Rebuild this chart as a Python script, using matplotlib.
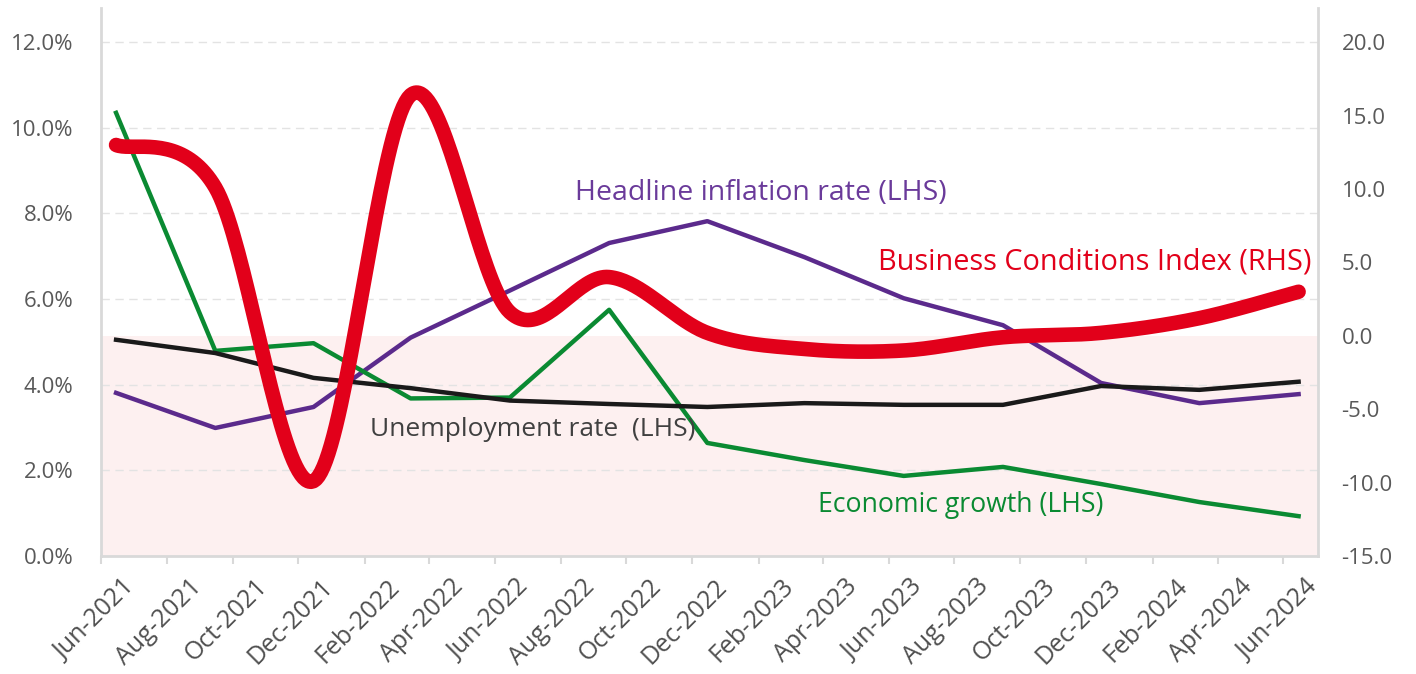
import numpy as np
import pandas as pd
import matplotlib
matplotlib.use("Agg")
import matplotlib.pyplot as plt
import matplotlib.dates as mdates
import matplotlib.transforms as mtransforms
from matplotlib.patches import Rectangle
from matplotlib.ticker import FuncFormatter, MultipleLocator

plt.rcParams['font.family'] = ['Open Sans', 'DejaVu Sans']

# Quarterly observations (plotted mid-month)
quarters = pd.to_datetime([
    '2021-06-15', '2021-09-15', '2021-12-15', '2022-03-15', '2022-06-15',
    '2022-09-15', '2022-12-15', '2023-03-15', '2023-06-15', '2023-09-15',
    '2023-12-15', '2024-03-15', '2024-06-15',
])
inflation = [3.81, 2.99, 3.48, 5.1, 6.2, 7.31, 7.82, 6.98, 6.02, 5.39, 4.04, 3.57, 3.78]
unemployment = [5.05, 4.74, 4.16, 3.92, 3.63, 3.55, 3.48, 3.57, 3.53, 3.53, 3.97, 3.88, 4.07]
growth = [10.35, 4.79, 4.97, 3.68, 3.7, 5.75, 2.64, 2.24, 1.87, 2.08, 1.68, 1.26, 0.93]
bci = [13.0, 10.1, -9.9, 16.4, 1.6, 4.0, 0.2, -0.9, -1.0, -0.1, 0.2, 1.2, 3.0]

x_start = pd.Timestamp('2021-06-01')
x_end = pd.Timestamp('2024-07-03')

GREY = '#595959'
AXIS_GREY = '#d9d9d9'
PURPLE = '#5b2a8c'
GREEN = '#0a8a32'
BLACK = '#1a1a1a'
RED = '#e2001a'


def smooth_curve(x, y, n=40):
    """Excel-style smoothed line: cubic Bezier with Catmull-Rom control points."""
    x = np.asarray(x, dtype=float)
    y = np.asarray(y, dtype=float)
    px = np.concatenate([[x[0]], x, [x[-1]]])
    py = np.concatenate([[y[0]], y, [y[-1]]])
    xs, ys = [], []
    t = np.linspace(0, 1, n)
    for i in range(1, len(x)):
        p0 = np.array([px[i], py[i]])
        p3 = np.array([px[i + 1], py[i + 1]])
        c1 = p0 + (np.array([px[i + 1], py[i + 1]]) - np.array([px[i - 1], py[i - 1]])) / 6
        c2 = p3 - (np.array([px[i + 2], py[i + 2]]) - np.array([px[i], py[i]])) / 6
        b = ((1 - t) ** 3)[:, None] * p0 + (3 * (1 - t) ** 2 * t)[:, None] * c1 \
            + (3 * (1 - t) * t ** 2)[:, None] * c2 + (t ** 3)[:, None] * p3
        xs.append(b[:, 0])
        ys.append(b[:, 1])
    return np.concatenate(xs), np.concatenate(ys)


fig = plt.figure(figsize=(14.16, 6.74), dpi=100)
ax1 = fig.add_axes([0.0713, 0.1751, 0.8595, 0.8131])
ax2 = ax1.twinx()

xnum = mdates.date2num(quarters)

# Left axis series
ax1.plot(xnum, inflation, color=PURPLE, lw=3.2, solid_joinstyle='round', zorder=3)
ax1.plot(xnum, growth, color=GREEN, lw=3.2, solid_joinstyle='round', zorder=3)
ax1.plot(xnum, unemployment, color=BLACK, lw=3.2, solid_joinstyle='round', zorder=3)

ax1.set_xlim(mdates.date2num(x_start), mdates.date2num(x_end))
ax1.set_ylim(0, 12.8)
ax2.set_ylim(-15, 12.8 * 35 / 12 - 15)

# Shaded region below zero on the right-hand scale
band = Rectangle((0, -15), 1, 15, facecolor='#fdf0f0', edgecolor='none', zorder=0,
                 transform=mtransforms.blended_transform_factory(ax1.transAxes, ax2.transData))
ax1.add_patch(band)

# Right axis series (smoothed)
sx, sy = smooth_curve(xnum, bci)
ax2.plot(sx, sy, color=RED, lw=10.5, solid_capstyle='round', zorder=4)

# Grid and axes styling
ax1.yaxis.set_major_locator(MultipleLocator(2))
ax1.yaxis.set_major_formatter(FuncFormatter(lambda v, p: f'{v:.1f}%'))
ax2.yaxis.set_major_locator(MultipleLocator(5))
ax2.yaxis.set_major_formatter(FuncFormatter(lambda v, p: f'{v:.1f}'))
ax1.set_axisbelow(True)
ax1.grid(axis='y', color='#e3e3e3', lw=1, ls=(0, (6, 4)))

ax1.xaxis.set_major_locator(mdates.MonthLocator(bymonth=[2, 4, 6, 8, 10, 12]))
ax1.xaxis.set_major_formatter(mdates.DateFormatter('%b-%Y'))

for ax in (ax1, ax2):
    for s in ax.spines.values():
        s.set_visible(False)
ax1.spines['left'].set_visible(True)
ax1.spines['bottom'].set_visible(True)
ax2.spines['right'].set_visible(True)
for s in (ax1.spines['left'], ax1.spines['bottom'], ax2.spines['right']):
    s.set_color(AXIS_GREY)
    s.set_linewidth(2)

ax1.tick_params(axis='y', length=0, pad=20, labelsize=16, labelcolor=GREY)
ax2.tick_params(axis='y', length=0, pad=17, labelsize=16, labelcolor=GREY)
ax1.tick_params(axis='x', length=6, width=1.5, color=AXIS_GREY, pad=7,
                labelsize=18, labelcolor='#505050')

offset = mtransforms.ScaledTranslation(22 / 100, 0, fig.dpi_scale_trans)
for lab in ax1.get_xticklabels():
    lab.set_rotation(45)
    lab.set_ha('right')
    lab.set_va('top')
    lab.set_rotation_mode('anchor')
    lab.set_transform(lab.get_transform() + offset)

# Series annotations
ax1.text(0.3895, 0.662, 'Headline inflation rate (LHS)', color='#6a3a9a', fontsize=20.5,
         transform=ax1.transAxes, va='center', ha='left')
ax1.text(0.6385, 0.5365, 'Business Conditions Index (RHS)', color=RED, fontsize=20.8,
         transform=ax1.transAxes, va='center', ha='left', zorder=6)
ax1.text(0.221, 0.230, 'Unemployment rate  (LHS)', color='#404040', fontsize=19,
         transform=ax1.transAxes, va='center', ha='left')
ax1.text(0.589, 0.093, 'Economic growth (LHS)', color=GREEN, fontsize=19.2,
         transform=ax1.transAxes, va='center', ha='left')

fig.savefig('out.png', dpi=100, facecolor='white')
